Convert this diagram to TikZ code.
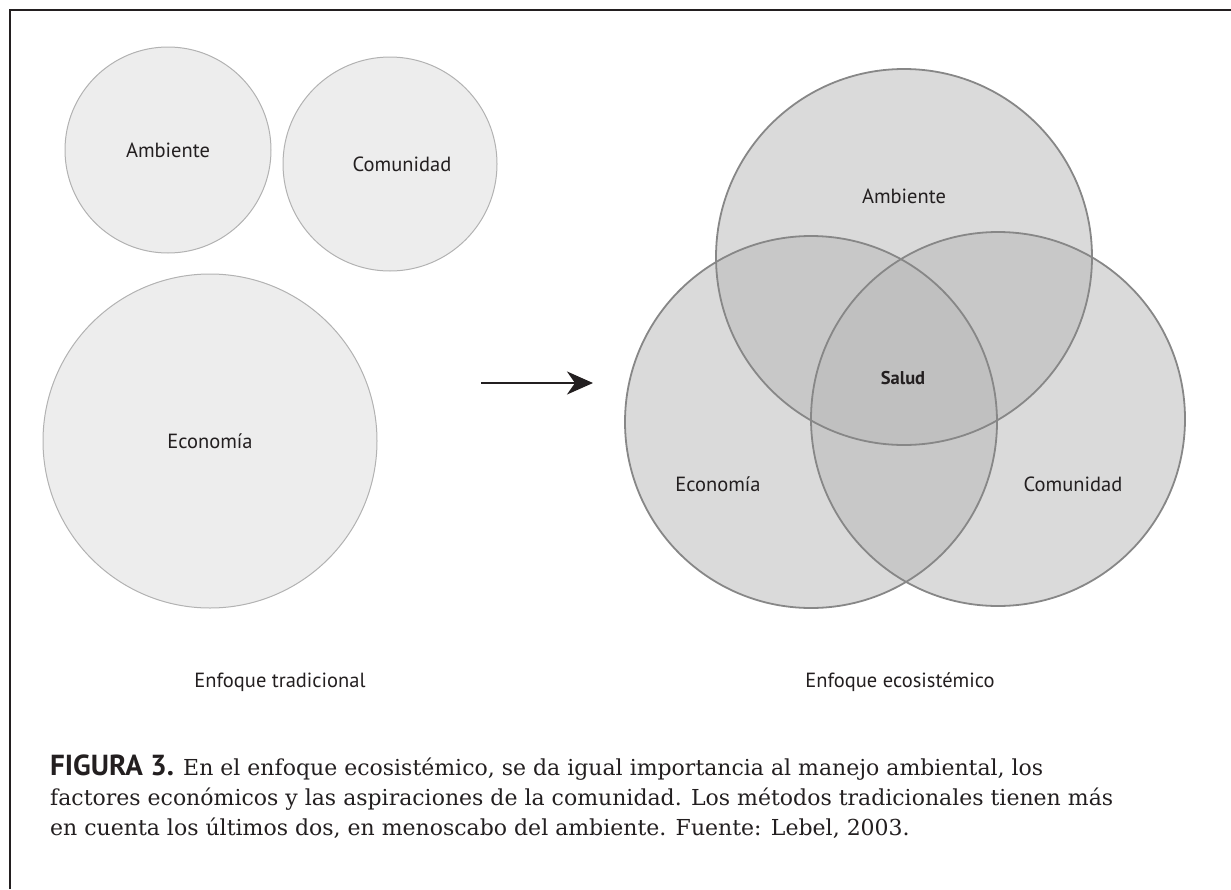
\documentclass[tikz,border=0pt]{standalone}
\usepackage{fontspec}
\setmainfont{DejaVu Serif}
\setsansfont{PT Sans}
\usetikzlibrary{arrows.meta,positioning}
\definecolor{ink}{HTML}{231F20}
\tikzset{
every node/.style={inner sep=0pt,text=ink},
style1/.style= {circle, draw=black!30, line width=1pt, fill=black!7},
style2/.style= {circle, fill=black!28, fill opacity=0.52},
style3/.style= {line width=1.8pt, draw=black!47},
lbl/.style= {font=\sffamily\fontsize{20.5}{24}\selectfont}
}

\begin{document}
\begin{tikzpicture}[x=1pt,y=-1pt,
>={Stealth[length=26pt,width=23pt,inset=8pt]}]
\useasboundingbox (0,0) rectangle (1231,889);
\draw[line width=2.2pt,ink] (10,889) -- (10,10) -- (1231,10);

% enfoque tradicional
\node[style1,lbl,minimum size=206] (amb1) at (168,150) {Ambiente};
\node[style1,lbl,minimum size=214] (com1) at (390,164) {\hspace*{24pt}Comunidad};
\node[style1,lbl,minimum size=334] (eco1) at (210,441) {Econom\'ia};

\coordinate (a1) at (481,383);
\coordinate (a2) at (593,383);
\draw[->,line width=2.6pt,ink] (a1) -- (a2);

% enfoque ecosistemico
\node[style2,minimum size=376] (amb2) at (904,257) {};
\node[style2,minimum size=372] (eco2) at (811,422) {};
\node[style2,minimum size=374] (com2) at (998,419) {};
\draw[style3] (amb2) circle[radius=188];
\draw[style3] (eco2) circle[radius=186];
\draw[style3] (com2) circle[radius=187];

\node[lbl] (t-amb2) at (904,196) {Ambiente};
\node[font=\sffamily\bfseries\fontsize{18.5}{22}\selectfont] (t-sal) at (903,378) {Salud};
\node[lbl] (t-eco2) at (718,484) {Econom\'ia};
\node[lbl] (t-com2) at (1073,484) {Comunidad};

\node[lbl] (t-trad) at (280,682) {Enfoque tradicional};
\node[lbl] (t-eco) at (900,682) {Enfoque ecosist\'emico};

\node[anchor=north west,align=left,font=\fontsize{22}{30}\selectfont] (cap) at (50,755)
{{\sffamily\bfseries\fontsize{29}{30}\selectfont FIGURA 3.} En el enfoque ecosist\'emico, se da igual importancia al manejo ambiental, los\\
factores econ\'omicos y las aspiraciones de la comunidad. Los m\'etodos tradicionales tienen m\'as\\
en cuenta los \'ultimos dos, en menoscabo del ambiente. Fuente: Lebel, 2003.};
\end{tikzpicture}
\end{document}
